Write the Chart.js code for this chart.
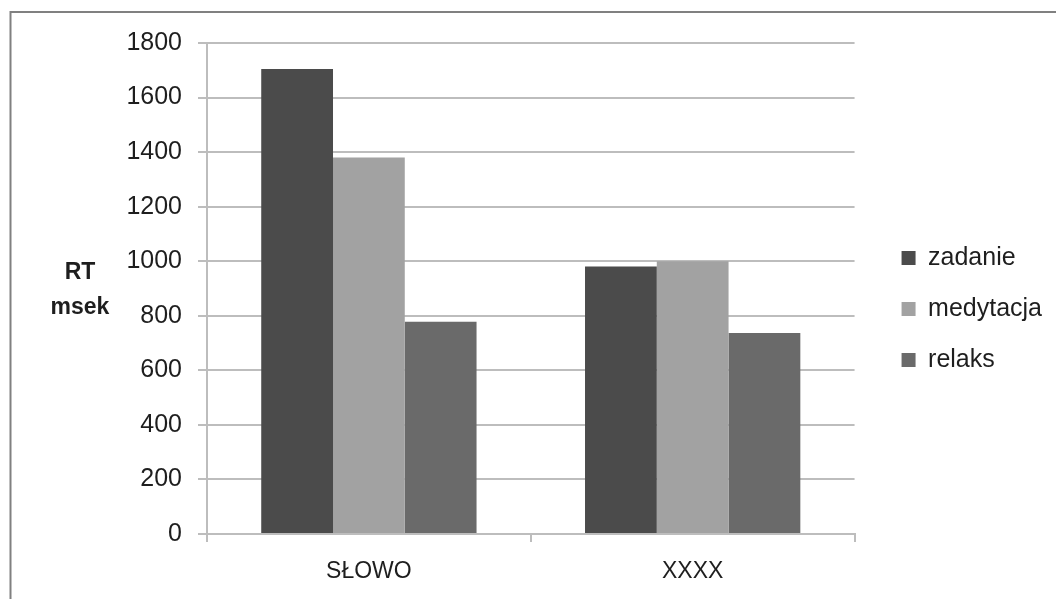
<!DOCTYPE html>
<html>
<head>
<meta charset="utf-8">
<script src="https://cdn.jsdelivr.net/npm/chart.js@4.4.1/dist/chart.umd.min.js"></script>
<style>
  html, body { margin: 0; padding: 0; background: #ffffff; }
  canvas { display: block; }
</style>
</head>
<body>
<canvas id="rt" width="1056" height="599"></canvas>
<script>
// Reaction times (ms) per condition
const categories = ['SŁOWO', 'XXXX'];
const seriesNames = ['zadanie', 'medytacja', 'relaks'];
const zadanie = [1705, 981];
const medytacja = [1380, 1000];
const relaks = [778, 737];
const yTicks = [0, 200, 400, 600, 800, 1000, 1200, 1400, 1600, 1800];
const yTitleLines = ['RT', 'msek'];

const FONT = "'Liberation Sans', Arial, sans-serif";
const GRID = '#bdbdbd';
const INK = '#1e1e1e';

// Frame line along the top and left edge of the figure
const framePlugin = {
  id: 'frame',
  beforeDraw(chart) {
    const ctx = chart.ctx;
    ctx.save();
    ctx.fillStyle = '#ffffff';
    ctx.fillRect(0, 0, chart.width, chart.height);
    ctx.strokeStyle = '#808080';
    ctx.lineWidth = 2;
    ctx.beginPath();
    ctx.moveTo(10.5, chart.height);
    ctx.lineTo(10.5, 12);
    ctx.lineTo(chart.width, 12);
    ctx.stroke();
    ctx.restore();
  }
};

// Nudge the legend block: a little up, and away from the plot edge
const legendShiftPlugin = {
  id: 'legendShift',
  afterLayout(chart) {
    const lg = chart.legend;
    if (lg) {
      lg.top -= 12; lg.bottom -= 12;
      lg.left += 21; lg.right += 21;
    }
  }
};

// Horizontal, stacked value-axis caption to the left of the tick labels
const yCaptionPlugin = {
  id: 'yCaption',
  afterDraw(chart) {
    const ctx = chart.ctx;
    const area = chart.chartArea;
    const cy = (area.top + area.bottom) / 2;
    ctx.save();
    ctx.font = "bold 23px " + FONT;
    ctx.fillStyle = INK;
    ctx.textAlign = 'center';
    ctx.textBaseline = 'middle';
    ctx.fillText(yTitleLines[0], 80, cy - 16);
    ctx.fillText(yTitleLines[1], 80, cy + 19);
    ctx.restore();
  }
};

const colors = ['#4b4b4b', '#a2a2a2', '#6a6a6a'];
const values = [zadanie, medytacja, relaks];

new Chart(document.getElementById('rt'), {
  type: 'bar',
  data: {
    labels: categories,
    datasets: seriesNames.map((name, i) => ({
      label: name,
      data: values[i],
      backgroundColor: colors[i],
      borderWidth: 0,
      categoryPercentage: 0.665,
      barPercentage: 1.0
    }))
  },
  options: {
    responsive: false,
    animation: false,
    layout: { padding: { left: 125, top: 43, right: 25, bottom: 0 } },
    plugins: {
      tooltip: { enabled: false },
      legend: {
        position: 'right',
        align: 'center',
        maxWidth: 220,
        labels: {
          boxWidth: 14,
          boxHeight: 14,
          padding: 26,
          color: INK,
          font: { family: FONT, size: 25 }
        }
      }
    },
    scales: {
      x: {
        offset: true,
        grid: {
          offset: true,
          drawOnChartArea: false,
          drawTicks: true,
          tickLength: 8,
          color: GRID,
          lineWidth: 2
        },
        border: { display: true, color: GRID, width: 2 },
        ticks: {
          color: INK,
          padding: 16,
          font: { family: FONT, size: 23 }
        },
        afterFit(scale) { scale.height = 65; }
      },
      y: {
        position: 'left',
        min: 0,
        max: 1800,
        afterBuildTicks(scale) {
          scale.ticks = yTicks.map(v => ({ value: v }));
        },
        grid: {
          drawTicks: true,
          tickLength: 9,
          color: GRID,
          lineWidth: 2
        },
        border: { display: true, color: GRID, width: 2 },
        ticks: {
          color: INK,
          padding: 16,
          font: { family: FONT, size: 25 },
          callback: (v) => String(v)
        },
        afterFit(scale) { scale.width = 82; }
      }
    }
  },
  plugins: [framePlugin, legendShiftPlugin, yCaptionPlugin]
});
</script>
</body>
</html>
